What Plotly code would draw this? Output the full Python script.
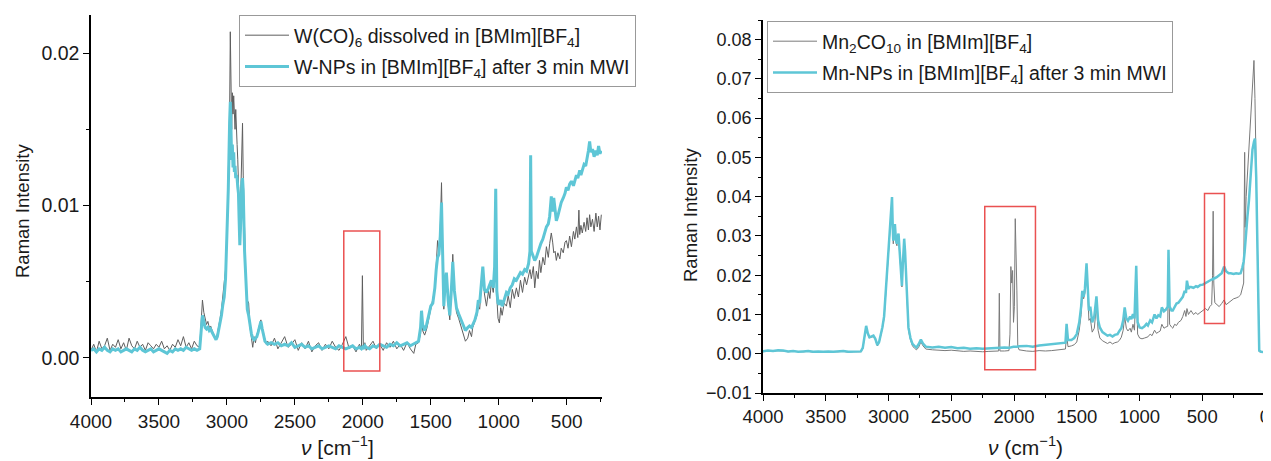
import plotly.graph_objects as go

# ---------------- Left panel: W(CO)6 / W-NPs ----------------
w_x = [4000,3980,3960,3940,3920,3900,3880,3860,3840,3820,3800,3780,3760,3740,3720,3700,3680,3660,3640,3620,
       3600,3580,3560,3540,3520,3500,3480,3460,3440,3420,3400,3380,3360,3340,3320,3300,3280,3260,3240,3220,3200,
       3190,3180,3170,3160,3150,3140,3130,3120,3110,3100,3090,3080,3070,3060,3050,3040,3030,3020,3010,3000,
       2990,2980,2975,2970,2965,2960,2955,2950,2945,2940,2935,2930,2925,2920,2915,2910,2905,2900,2895,2890,
       2885,2880,2870,2860,2850,2840,2830,2820,2810,2800,2790,2780,2770,2760,2750,2740,2730,2720,2710,2700,
       2675,2650,2625,2600,2575,2550,2525,2500,2475,2450,2425,2400,2375,2350,2325,2300,2275,2250,2225,2200,
       2175,2150,2125,2100,2075,2050,2025,2010,2003,1996,1985,1975,1950,1925,1900,1875,1850,1825,1800,1775,
       1750,1725,1700,1675,1650,1625,1610,
       1590,1575,1568,1560,1545,1530,1515,1500,1485,1470,1460,1450,1440,1430,1421,1412,1404,1395,1385,1372,
       1360,1350,1338,1326,1311,1295,1274,1260,1245,1228,1215,1200,1191,1175,1160,1150,1140,1130,1117,1105,
       1090,1075,1065,1054,1040,1030,1022,1014,1005,995,985,975,960,943,930,915,900,885,870,855,
       840,825,809,795,780,770,765,760,745,735,723,710,700,690,675,662,649,635,625,613,
       603,595,585,576,565,550,540,525,512,502,490,478,465,450,440,428,418,410,404,395,
       385,372,360,350,340,331,322,310,298,285,275,265,255,245]

w_co6 = [0.5,0.9,0.4,1.1,0.6,0.8,1.3,0.5,0.9,0.7,1.2,0.6,1.0,0.5,1.3,0.8,0.6,1.1,0.7,0.9,
         0.5,1.0,0.8,0.6,0.9,0.7,1.1,0.6,0.8,0.5,0.9,0.7,1.2,0.8,1.4,0.7,1.0,0.6,1.1,0.8,0.7,
         2.4,3.8,3.0,2.6,2.2,2.4,2.0,2.1,1.8,1.6,1.4,1.2,1.6,2.0,2.6,3.2,4.2,4.8,5.8,8.0,
         12.0,16.0,21.4,18.0,15.0,17.4,16.0,17.2,16.4,15.0,16.3,15.5,14.0,13.0,11.5,9.5,8.5,10.0,12.0,13.5,
         15.4,12.0,7.5,5.0,3.8,3.6,2.0,1.4,0.7,1.4,1.0,1.5,1.8,2.2,2.5,2.0,1.5,1.2,0.9,1.1,
         0.8,1.3,0.6,1.0,1.4,0.7,0.9,1.2,0.5,1.0,0.6,1.1,0.4,0.8,1.0,0.5,0.9,0.6,1.1,0.7,
         0.5,0.9,1.4,0.6,0.8,0.4,0.9,0.6,5.4,0.7,1.0,0.5,0.8,1.1,0.6,0.9,0.5,1.0,0.7,1.1,
         0.6,0.9,0.5,1.0,0.6,0.3,0.9,
         1.0,1.6,2.8,1.8,1.5,1.9,2.6,3.2,3.8,4.5,6.0,7.7,7.0,8.5,11.5,7.0,3.2,4.5,5.5,3.5,
         2.5,4.0,6.8,4.5,3.0,2.6,2.0,1.6,1.1,1.3,1.8,1.4,2.0,2.4,2.8,3.4,3.2,4.5,5.8,4.2,
         3.4,4.4,3.9,5.0,4.3,5.5,10.8,4.0,2.6,2.3,3.3,2.8,3.6,3.4,4.1,3.3,4.5,3.9,4.6,4.0,
         5.1,4.3,5.3,4.8,5.5,5.8,5.5,5.2,6.0,4.6,5.7,5.2,6.4,5.6,6.6,6.1,7.3,6.6,7.5,8.2,
         7.6,6.9,7.0,6.4,6.9,6.5,7.2,6.9,7.6,7.7,7.2,8.0,7.3,8.3,7.8,8.6,7.9,9.7,8.1,8.7,
         8.2,8.9,8.3,9.2,8.4,9.4,8.6,9.1,8.3,9.5,8.6,9.3,8.4,9.4]

w_nps = [0.5,0.6,0.4,0.6,0.5,0.7,0.5,0.4,0.6,0.5,0.6,0.4,0.5,0.6,0.5,0.4,0.6,0.5,0.7,0.5,
         0.4,0.5,0.6,0.4,0.5,0.6,0.5,0.4,0.3,0.5,0.4,0.6,0.5,0.6,0.5,0.7,0.6,0.5,0.6,0.5,0.6,
         2.0,2.8,2.4,2.0,1.9,2.0,1.8,1.9,1.7,1.5,1.3,1.2,1.4,1.8,2.3,2.8,3.5,4.0,5.2,7.5,
         11.0,15.5,16.8,15.0,13.0,14.0,12.5,13.5,12.2,12.6,11.8,12.0,11.8,11.2,10.8,9.0,7.4,8.5,10.5,11.5,
         11.8,11.0,7.0,4.8,3.2,2.8,2.0,1.6,1.3,1.2,1.3,1.4,1.7,2.1,2.4,1.9,1.4,1.1,1.0,0.9,
         1.0,0.9,1.0,0.8,0.9,0.8,1.0,0.7,0.8,0.9,0.7,0.8,0.6,0.7,0.8,0.6,0.7,0.8,0.7,0.6,
         0.8,0.7,0.6,0.7,0.8,0.6,0.7,0.6,0.7,0.6,0.8,0.7,0.6,0.8,0.7,0.9,0.8,0.7,0.9,0.8,
         1.0,0.8,0.9,1.0,0.8,0.9,1.0,
         1.1,2.0,3.1,2.2,1.8,2.2,2.8,3.4,3.6,4.6,5.8,6.6,6.8,8.0,10.2,6.5,3.4,4.8,5.6,3.8,
         2.8,4.2,6.3,4.4,3.3,2.9,2.4,2.2,1.8,2.0,2.1,2.0,2.2,2.5,3.0,3.8,3.6,4.8,6.0,4.5,
         4.3,4.6,4.8,5.1,4.6,6.0,11.1,4.4,3.6,3.5,3.8,3.4,3.8,4.3,4.2,4.6,4.8,5.2,5.1,5.4,
         5.6,5.5,5.8,5.7,6.2,7.0,13.3,7.0,6.6,6.4,6.6,7.0,7.2,7.5,7.8,8.2,8.6,8.8,9.3,10.6,
         9.6,10.5,9.4,9.0,9.3,9.9,10.2,10.5,10.8,11.2,11.0,11.4,11.6,11.3,11.7,12.0,11.8,12.2,12.3,12.0,
         12.4,12.7,12.6,13.0,13.6,14.2,13.5,13.7,13.2,13.6,13.3,13.9,13.4,13.6]

# ---------------- Right panel: Mn2CO10 / Mn-NPs ----------------
mn_x = [4000,3960,3920,3880,3840,3800,3760,3720,3680,3640,3600,3560,3520,3480,3440,3400,3360,3320,3280,3240,3220,
        3205,3190,3178,3165,3152,3135,3120,3105,3089,3075,3060,3049,3035,3017,3005,2994,2985,2978,2972,2966,
        2962,2955,2949,2941,2933,2926,2920,2913,2906,2898,2893,2887,2880,2875,2868,2857,2848,2841,2825,2809,
        2793,2777,2760,2742,2725,2703,
        2650,2600,2550,2500,2450,2400,2350,2300,2250,2200,2150,2122,2117,2112,2075,2040,2032,2025,2018,2011,
        2004,1997,1990,1984,1977,1970,1960,1900,1850,1800,1750,1700,1650,1610,
        1590,1581,1570,1543,1520,1500,1480,1465,1456,1445,1435,1422,1412,1403,1392,1377,1360,1343,1330,1316,
        1295,1277,1255,1235,1215,1197,1175,1160,1145,1130,1118,1105,1092,1075,1065,1052,1040,1026,1015,999,
        980,960,945,933,915,900,880,865,850,835,822,805,790,775,769,760,745,735,720,705,
        690,669,655,640,630,622,610,600,590,570,550,537,515,495,475,455,440,425,418,413,
        408,400,385,365,345,326,310,290,273,250,230,210,194,180,170,162,158,150,140,128,
        115,100,88,80,70,60,52,46,30,10]

mn2co10 = [0.5,0.7,0.6,0.8,0.7,0.5,0.6,0.5,0.5,0.6,0.4,0.5,0.5,0.5,0.4,0.5,0.6,0.4,0.5,0.6,0.5,
           1.3,4.6,6.8,5.0,4.0,4.2,4.4,3.6,2.0,2.8,4.5,6.4,9.0,18.0,24.5,30.5,33.5,37.0,39.0,31.5,
           28.0,32.0,32.5,28.5,27.5,29.5,30.0,26.5,22.5,18.5,17.0,21.5,27.5,28.8,25.5,18.0,10.5,6.0,3.5,2.0,
           1.4,1.0,1.6,3.0,2.0,1.2,
           1.0,0.9,0.8,0.9,0.7,0.6,0.7,0.6,0.5,0.6,0.6,0.7,15.4,0.7,0.7,0.8,5.0,22.2,18.0,21.2,
           8.0,12.0,34.4,20.0,16.0,2.0,1.0,0.7,0.6,0.8,0.7,0.8,0.9,1.0,
           1.2,5.0,1.8,2.0,2.3,3.0,6.0,10.0,15.0,14.0,15.5,22.0,12.0,8.5,9.0,5.5,6.5,12.5,6.0,4.0,
           3.3,3.0,2.6,3.0,2.5,2.8,3.0,3.4,4.2,6.0,9.5,6.5,5.8,6.5,5.5,7.5,6.0,20.0,5.0,4.0,
           3.8,4.0,4.2,4.3,5.0,4.6,6.0,5.2,5.5,5.8,7.5,6.5,6.8,7.0,24.0,7.5,6.8,6.5,7.5,7.2,
           8.0,8.5,9.5,11.0,9.5,11.5,10.0,10.5,11.0,10.0,10.5,10.0,10.5,11.0,11.5,11.0,12.0,12.5,20.0,36.3,
           18.0,13.0,12.5,12.0,12.8,13.7,12.5,13.0,13.5,14.0,14.2,14.5,15.0,17.0,18.0,51.3,32.2,40.0,46.0,50.0,
           58.0,68.0,74.7,65.0,45.0,20.0,3.0,0.5,0.4,0.3]

mn_nps = [0.6,0.8,0.7,0.9,0.8,0.6,0.7,0.5,0.6,0.7,0.5,0.6,0.5,0.6,0.5,0.6,0.7,0.5,0.6,0.7,0.6,
          1.5,5.0,7.1,5.2,4.2,4.4,4.6,3.8,2.2,3.0,4.8,6.7,9.5,18.6,25.0,31.0,34.0,37.5,39.9,32.0,
          28.8,32.5,33.0,29.0,28.0,30.0,30.6,27.0,23.0,19.0,17.3,22.0,28.0,29.3,26.0,18.6,11.0,6.7,4.0,2.5,
          2.0,1.6,2.4,3.6,2.6,1.8,
          1.6,1.8,1.5,1.7,1.4,1.5,1.3,1.4,1.3,1.4,1.5,1.4,1.5,1.4,1.6,1.5,1.6,1.7,1.7,1.8,
          1.8,1.8,1.9,1.8,1.8,1.9,1.9,2.0,1.8,2.1,2.3,2.4,2.6,2.8,
          2.8,7.6,3.5,3.5,4.0,5.0,8.0,12.0,16.0,14.5,16.5,23.0,14.0,11.0,12.0,8.0,9.5,14.6,8.5,6.7,
          5.5,5.0,4.6,4.8,4.4,4.8,5.0,5.8,6.5,8.5,11.8,9.0,8.4,9.5,8.8,10.1,9.0,22.4,8.0,6.7,
          6.5,7.0,7.6,7.2,8.5,8.0,10.0,9.0,9.8,9.5,11.8,10.8,11.2,12.0,26.5,12.0,11.0,11.0,12.0,12.8,
          13.0,13.8,14.5,16.0,15.5,18.6,16.5,17.0,17.0,16.8,17.2,17.0,17.5,17.6,18.0,18.5,18.8,18.9,19.0,19.0,
          19.2,19.2,19.5,20.0,20.5,22.2,21.0,20.5,20.5,20.3,20.5,20.4,20.5,22.0,23.5,26.0,28.0,31.0,35.0,39.0,
          45.0,52.0,54.0,54.8,45.0,29.0,8.0,0.8,0.5,0.4]

left_names = ["W(CO)<sub>6</sub> dissolved in [BMIm][BF<sub>4</sub>]",
              "W-NPs in [BMIm][BF<sub>4</sub>] after 3 min MWI"]
right_names = ["Mn<sub>2</sub>CO<sub>10</sub> in [BMIm][BF<sub>4</sub>]",
               "Mn-NPs in [BMIm][BF<sub>4</sub>] after 3 min MWI"]

GRAY_L = "#5e5e5e"
GRAY_R = "#7a7a7a"
CYAN = "#5ec6d6"
FONT = "Arial, Liberation Sans, sans-serif"
TXT = "#1a1a1a"

# the page body has an 8 px margin: size the figure so that it fills the window exactly
OFF = 8
W, H = 1271 - OFF, 461 - OFF

def px(x):   # reference pixel column -> paper fraction
    return (x - OFF) / W

def py(y):   # reference pixel row -> paper fraction
    return 1 - (y - OFF) / H

def sc(v):
    return [a * 1e-3 for a in v]

fig = go.Figure()
fig.add_trace(go.Scatter(x=w_x, y=sc(w_co6), mode="lines", name=left_names[0], legendgroup="a",
                         line=dict(color=GRAY_L, width=1), xaxis="x", yaxis="y", legend="legend"))
fig.add_trace(go.Scatter(x=w_x, y=sc(w_nps), mode="lines", name=left_names[1], legendgroup="b",
                         line=dict(color=CYAN, width=3), xaxis="x", yaxis="y", legend="legend"))
fig.add_trace(go.Scatter(x=mn_x, y=sc(mn2co10), mode="lines", name=right_names[0], legendgroup="c",
                         line=dict(color=GRAY_R, width=1), xaxis="x2", yaxis="y2", legend="legend2"))
fig.add_trace(go.Scatter(x=mn_x, y=sc(mn_nps), mode="lines", name=right_names[1], legendgroup="d",
                         line=dict(color=CYAN, width=2.5), xaxis="x2", yaxis="y2", legend="legend2"))

def axis(**kw):
    d = dict(showline=True, linecolor="black", linewidth=1.5, mirror=False, showgrid=False,
             zeroline=False, ticks="outside", ticklen=6, tickwidth=1.2, tickcolor="black",
             automargin=False, ticklabeloverflow="allow")
    d.update(kw)
    return d

fig.update_layout(
    width=W, height=H, margin=dict(l=0, r=0, t=0, b=0, autoexpand=False),
    paper_bgcolor="white", plot_bgcolor="white",
    font=dict(family=FONT, color=TXT),
    xaxis=axis(domain=[px(91), px(602)], range=[4000, 240], dtick=500, tick0=0, anchor="y",
               tickfont=dict(family=FONT, size=19, color=TXT),
               minor=dict(dtick=250, tick0=0, ticks="outside", ticklen=3, tickcolor="black")),
    yaxis=axis(domain=[py(397), py(15)], range=[-0.00256, 0.0225], dtick=0.01, tick0=0,
               tickformat=".2f", anchor="x", tickfont=dict(family=FONT, size=19.5, color=TXT),
               minor=dict(dtick=0.005, tick0=0, ticks="outside", ticklen=3, tickcolor="black")),
    xaxis2=axis(domain=[px(763), px(1265)], range=[4000, 0], dtick=500, tick0=0, anchor="y2",
                tickfont=dict(family=FONT, size=18.5, color=TXT),
                minor=dict(dtick=250, tick0=0, ticks="outside", ticklen=3, tickcolor="black")),
    yaxis2=axis(domain=[py(393), py(20)], range=[-0.01, 0.085], dtick=0.01, tick0=0,
                tickformat=".2f", anchor="x2", tickfont=dict(family=FONT, size=18, color=TXT),
                minor=dict(dtick=0.005, tick0=0, ticks="outside", ticklen=3, tickcolor="black")),
    legend=dict(x=px(239), y=py(15), xanchor="left", yanchor="top", bgcolor="white",
                bordercolor="#999999", borderwidth=1, font=dict(family=FONT, size=19.5, color=TXT),
                itemwidth=44, tracegroupgap=3),
    legend2=dict(x=px(767), y=py(21), xanchor="left", yanchor="top", bgcolor="white",
                 bordercolor="#999999", borderwidth=1, font=dict(family=FONT, size=19.5, color=TXT),
                 itemwidth=44, tracegroupgap=3),
    showlegend=True,
)

RED = "rgba(230,50,50,0.85)"
fig.add_shape(type="rect", xref="x", yref="y", x0=2140, x1=1875, y0=-0.00085, y1=0.00833,
              line=dict(color=RED, width=1.5))
fig.add_shape(type="rect", xref="x2", yref="y2", x0=2233, x1=1829, y0=-0.0041, y1=0.0375,
              line=dict(color=RED, width=1.5))
fig.add_shape(type="rect", xref="x2", yref="y2", x0=482, x1=323, y0=0.0077, y1=0.0408,
              line=dict(color=RED, width=1.5))

fig.add_annotation(text="Raman Intensity", xref="paper", yref="paper", x=px(22), y=py(211),
                   textangle=-90, showarrow=False, xanchor="center", yanchor="middle",
                   font=dict(family=FONT, size=18.5, color=TXT))
fig.add_annotation(text="Raman Intensity", xref="paper", yref="paper", x=px(690), y=py(215),
                   textangle=-90, showarrow=False, xanchor="center", yanchor="middle",
                   font=dict(family=FONT, size=18.5, color=TXT))
fig.add_annotation(text="<i>ν</i> [cm<sup>−1</sup>]", xref="paper", yref="paper", x=px(337), y=py(446),
                   showarrow=False, xanchor="center", yanchor="middle",
                   font=dict(family=FONT, size=21, color=TXT))
fig.add_annotation(text="<i>ν</i> (cm<sup>−1</sup>)", xref="paper", yref="paper", x=px(1025), y=py(446),
                   showarrow=False, xanchor="center", yanchor="middle",
                   font=dict(family=FONT, size=21, color=TXT))

fig.write_html("out.html")
